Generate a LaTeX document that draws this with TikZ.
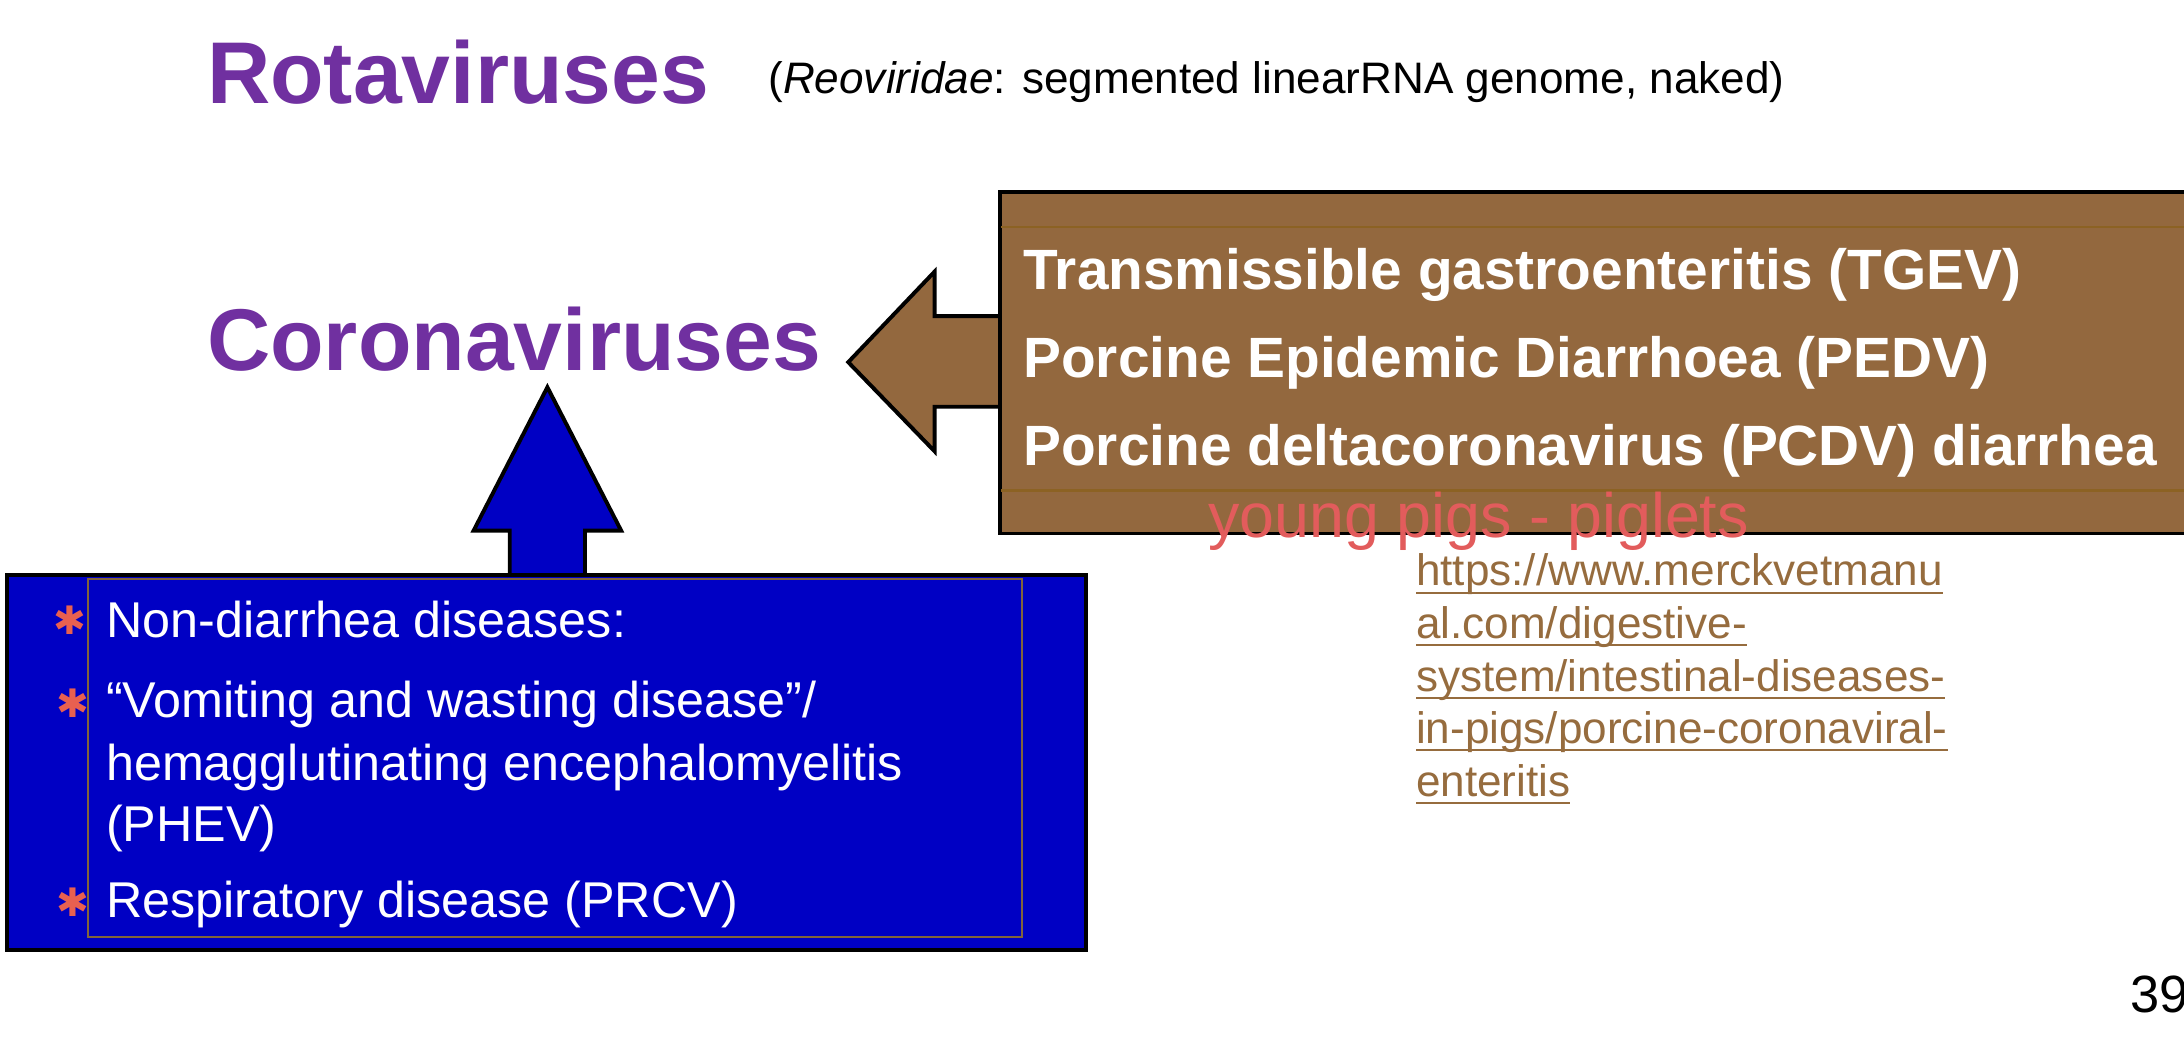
\documentclass[tikz,border=0pt]{standalone}
\usepackage{fontspec}
\setmainfont{Liberation Sans}
\newfontfamily\symfont{DejaVu Sans}
\usetikzlibrary{positioning}

\definecolor{titlepurple}{RGB}{112,48,160}
\definecolor{boxbrown}{RGB}{147,104,62}
\definecolor{frameolive}{RGB}{140,98,35}
\definecolor{boxblue}{RGB}{0,0,196}
\definecolor{framebrown}{RGB}{130,100,60}
\definecolor{bulletred}{RGB}{232,96,80}
\definecolor{inkred}{RGB}{226,92,92}
\definecolor{linkbrown}{RGB}{150,108,62}

\newcommand{\urlline}[1]{\underline{\smash{#1}}}

\begin{document}
\begin{tikzpicture}[
						x=0.01cm, y=-0.01cm,
						virusname/.style = {anchor=base west, inner sep=0pt, text=titlepurple, font=\fontsize{17.9}{21}\selectfont\bfseries},
						subnote/.style = {anchor=base west, inner sep=0pt, font=\fontsize{9}{11}\selectfont},
						brownline/.style = {anchor=base west, inner sep=0pt, text=white, font=\fontsize{11.6}{14}\selectfont\bfseries},
						blueline/.style = {anchor=base west, inner sep=0pt, text=white, font=\fontsize{10.27}{12.5}\selectfont},
						bulletmark/.style = {inner sep=0pt, text=bulletred, font=\symfont\fontsize{8}{8}\selectfont},
						urltext/.style = {anchor=base west, inner sep=0pt, text=linkbrown, font=\fontsize{9}{11}\selectfont},
						blockarrow/.style = {draw=black, line width=0.8pt, line join=miter},
					]
\clip (0,0) rectangle (1568,744);

% block arrows
\filldraw[blockarrow, fill=boxbrown] (730,227) -- (671,227) -- (671,195) -- (609,260) -- (671,324) -- (671,292) -- (730,292) -- cycle;
\filldraw[blockarrow, fill=boxblue] (366,425) -- (366,381) -- (340,381) -- (393,278) -- (446,381) -- (420,381) -- (420,425) -- cycle;

% boxes
\filldraw[fill=boxbrown, draw=black, line width=0.8pt] (718,138) rectangle (1600,383);
\draw[frameolive, line width=0.5pt] (719,163) -- (1600,163) (719,352) -- (1600,352);
\filldraw[fill=boxblue, draw=black, line width=0.8pt] (5,413) rectangle (780,682);
\draw[framebrown, line width=0.4pt] (63,416) rectangle (734,673);

\node[virusname] (rota) at (148,74.5) {Rotaviruses};
\node[subnote] (rotanote) at (551,67) {(\textit{Reoviridae}: segmented linearRNA genome, naked)};
\node[virusname] (corona) at (148,266) {Coronaviruses};

\node[brownline] (tgev) at (734,208) {Transmissible gastroenteritis (TGEV)};
\node[brownline] (pedv) at (734,271) {Porcine Epidemic Diarrhoea (PEDV)};
\node[brownline] (pcdv) at (734,334) {Porcine deltacoronavirus (PCDV) diarrhea};

\node[bulletmark] (b1) at (50,445) {✱};
\node[bulletmark] (b2) at (52,505) {✱};
\node[bulletmark] (b3) at (52,648) {✱};
\node[blueline] (nondiarrhea) at (75.5,458) {Non-diarrhea diseases:};
\node[blueline] (vomiting) at (75.5,515) {“Vomiting and wasting disease”/};
\node[blueline] (hemagg) at (75.5,560) {hemagglutinating encephalomyelitis};
\node[blueline] (phev) at (75.5,604) {(PHEV)};
\node[blueline] (prcv) at (75.5,659) {Respiratory disease (PRCV)};

\node[anchor=base west, inner sep=0pt, text=inkred, font=\fontsize{12.8}{14}\selectfont] (piglets) at (867,386) {young pigs - piglets};

\node[urltext] (url1) at (1016,420.7) {\urlline{https://www.merckvetmanu}};
\node[urltext] (url2) at (1016,458.4) {\urlline{al.com/digestive-}};
\node[urltext] (url3) at (1016,496.1) {\urlline{system/intestinal-diseases-}};
\node[urltext] (url4) at (1016,533.8) {\urlline{in-pigs/porcine-coronaviral-}};
\node[urltext] (url5) at (1016,571.5) {\urlline{enteritis}};

\node[anchor=base west, inner sep=0pt, font=\fontsize{10.7}{12}\selectfont] (pagenum) at (1529,727) {39};

\end{tikzpicture}
\end{document}
